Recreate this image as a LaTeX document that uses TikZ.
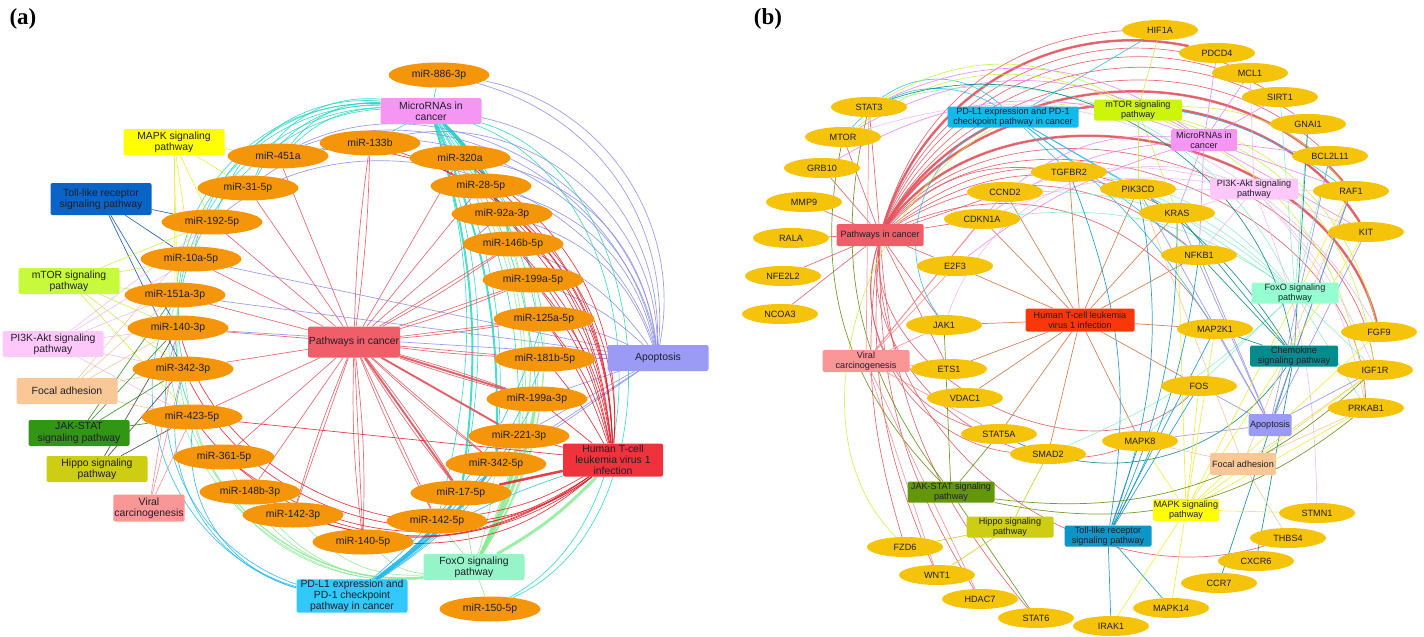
\documentclass[tikz,border=0pt]{standalone}
\usepackage{fontspec}
\setmainfont{Liberation Sans}
\newfontfamily\labfont{Liberation Serif}
\usetikzlibrary{shapes.geometric,backgrounds}
% node colours
\definecolor{miro}{RGB}{245,150,10}
\definecolor{geneo}{RGB}{245,195,10}
\definecolor{txt}{RGB}{30,30,40}
\definecolor{cPCa}{RGB}{240,95,105}
\definecolor{cHTa}{RGB}{240,50,60}
\definecolor{cApo}{RGB}{155,155,245}
\definecolor{cMir}{RGB}{245,150,245}
\definecolor{cFox}{RGB}{150,245,200}
\definecolor{cPD}{RGB}{50,200,250}
\definecolor{cMAPK}{RGB}{255,255,0}
\definecolor{cToll}{RGB}{10,100,200}
\definecolor{cmTOR}{RGB}{200,250,60}
\definecolor{cPI3K}{RGB}{255,200,250}
\definecolor{cFocal}{RGB}{250,200,150}
\definecolor{cJAK}{RGB}{50,150,20}
\definecolor{cHippo}{RGB}{205,205,20}
\definecolor{cViral}{RGB}{250,150,150}
\definecolor{cHTb}{RGB}{250,55,10}
\definecolor{cPDb}{RGB}{20,185,235}
\definecolor{cmTORb}{RGB}{205,245,10}
\definecolor{cChem}{RGB}{0,140,140}
\definecolor{cTollb}{RGB}{10,150,200}
\definecolor{cJAKb}{RGB}{100,150,10}
\definecolor{cFoxb}{RGB}{150,255,210}
% edge colours
\definecolor{kPC}{RGB}{225,85,95}
\definecolor{kHT}{RGB}{225,30,40}
\definecolor{kApo}{RGB}{140,140,230}
\definecolor{kMir}{RGB}{40,215,195}
\definecolor{kFox}{RGB}{140,235,150}
\definecolor{kPD}{RGB}{40,185,235}
\definecolor{kMAPK}{RGB}{235,235,50}
\definecolor{kToll}{RGB}{20,80,170}
\definecolor{kmTOR}{RGB}{200,240,70}
\definecolor{kPI3K}{RGB}{240,185,240}
\definecolor{kFocal}{RGB}{245,195,155}
\definecolor{kJAK}{RGB}{40,140,20}
\definecolor{kHippo}{RGB}{60,60,50}
\definecolor{kViral}{RGB}{240,140,140}
\definecolor{kHTb}{RGB}{205,110,60}
\definecolor{kMirb}{RGB}{235,130,235}
\definecolor{kFoxb}{RGB}{140,235,200}
\definecolor{kChem}{RGB}{0,130,130}
\definecolor{kTollb}{RGB}{10,145,195}
\definecolor{kJAKb}{RGB}{90,140,10}
\definecolor{kHippob}{RGB}{200,200,30}
\newcommand\edgefan[3]{\foreach \tg/\bd in {#3}{\draw[#1] (#2) to[bend right=\bd] (\tg);}}
\tikzset{
  mira/.style={ellipse, fill=miro, minimum width=101pt, minimum height=25pt, inner sep=0pt, text=txt, font=\fontsize{10.4}{11}\selectfont},
  geneb/.style={ellipse, fill=geneo, minimum width=76pt, minimum height=20pt, inner sep=0pt, text=txt, font=\fontsize{9.1}{10}\selectfont},
  pwa/.style={rectangle, rounded corners=2pt, minimum width=101pt, minimum height=26pt, inner sep=1pt, align=center, text=txt, font=\fontsize{10.4}{11.2}\selectfont},
  pwb/.style={rectangle, rounded corners=1.5pt, minimum width=87pt, minimum height=21pt, inner sep=0.5pt, align=center, text=txt, font=\fontsize{9.1}{9.8}\selectfont},
  panlab/.style={font=\labfont\bfseries\fontsize{23}{25}\selectfont, inner sep=0pt},
  ed/.style={line width=0.7pt, draw opacity=0.85},
  ePC/.style={ed, draw=kPC}, eHT/.style={ed, draw=kHT}, eApo/.style={ed, draw=kApo},
  eMir/.style={ed, draw=kMir}, eFox/.style={ed, draw=kFox}, ePD/.style={ed, draw=kPD},
  eMAPK/.style={ed, draw=kMAPK}, eToll/.style={ed, draw=kToll}, emTOR/.style={ed, draw=kmTOR},
  ePI3K/.style={ed, draw=kPI3K}, eFocal/.style={ed, draw=kFocal}, eJAK/.style={ed, draw=kJAK},
  eHippo/.style={ed, draw=kHippo}, eViral/.style={ed, draw=kViral},
  eHTb/.style={ed, draw=kHTb}, eMirb/.style={ed, draw=kMirb}, eFoxb/.style={ed, draw=kFoxb},
  eChem/.style={ed, draw=kChem}, eTollb/.style={ed, draw=kTollb}, eJAKb/.style={ed, draw=kJAKb},
  eHippob/.style={ed, draw=kHippob}
}
\begin{document}
\begin{tikzpicture}[x=1pt,y=-1pt]
\useasboundingbox (0,0) rectangle (1424,637);
\node[panlab] (la) at (23,19) {(a)};
\node[panlab] (lb) at (768,19) {(b)};
% ================= panel (a) nodes
\node[mira] (m886) at (439,75) {miR-886-3p};
\node[pwa, fill=cMir] (mirc) at (431,111) {MicroRNAs in\\cancer};
\node[mira] (m133b) at (370,143) {miR-133b};
\node[mira] (m451a) at (278,156) {miR-451a};
\node[mira] (m320a) at (460,158) {miR-320a};
\node[mira] (m28) at (481,186) {miR-28-5p};
\node[mira] (m92a) at (502,214) {miR-92a-3p};
\node[mira] (m146b) at (513,244) {miR-146b-5p};
\node[mira] (m199a5) at (533,280) {miR-199a-5p};
\node[mira] (m125a) at (544,319) {miR-125a-5p};
\node[mira] (m181b) at (545,359) {miR-181b-5p};
\node[mira] (m199a3) at (537,399) {miR-199a-3p};
\node[mira] (m221) at (519,436) {miR-221-3p};
\node[mira] (m342s5) at (496,464) {miR-342-5p};
\node[mira] (m17) at (461,493) {miR-17-5p};
\node[mira] (m142s5) at (437,521) {miR-142-5p};
\node[mira] (m140s5) at (363,542) {miR-140-5p};
\node[mira] (m150) at (490,609) {miR-150-5p};
\node[pwa, fill=cFox] (foxa) at (474,567) {FoxO signaling\\pathway};
\node[pwa, fill=cPD, minimum width=111pt, minimum height=33pt, font=\fontsize{10.4}{10.8}\selectfont] (pda) at (352,596) {PD-L1 expression and\\PD-1 checkpoint\\pathway in cancer};
\node[pwa, fill=cHTa, minimum width=100pt, minimum height=33pt, font=\fontsize{10.4}{10.8}\selectfont] (hta) at (613,460) {Human T-cell\\leukemia virus 1\\infection};
\node[pwa, fill=cApo] (apoa) at (658,358) {Apoptosis};
\node[pwa, fill=cPCa, minimum width=92pt, minimum height=31pt, inner sep=0pt] (pca) at (354,342) {Pathways in cancer};
\node[mira] (m31) at (248,188) {miR-31-5p};
\node[mira] (m192) at (212,222) {miR-192-5p};
\node[mira] (m10a) at (191,259) {miR-10a-5p};
\node[mira] (m151a) at (175,295) {miR-151a-3p};
\node[mira] (m140s3) at (178,328) {miR-140-3p};
\node[mira] (m342s3) at (183,369) {miR-342-3p};
\node[mira] (m423) at (192,417) {miR-423-5p};
\node[mira] (m361) at (224,457) {miR-361-5p};
\node[mira] (m148b) at (250,492) {miR-148b-3p};
\node[mira] (m142s3) at (293,515) {miR-142-3p};
\node[pwa, fill=cMAPK] (mapka) at (174,142) {MAPK signaling\\pathway};
\node[pwa, fill=cToll, minimum height=32pt] (tolla) at (101,199) {Toll-like receptor\\signaling pathway};
\node[pwa, fill=cmTOR] (mtora) at (69,281) {mTOR signaling\\pathway};
\node[pwa, fill=cPI3K] (pi3ka) at (53,344) {PI3K-Akt signaling\\pathway};
\node[pwa, fill=cFocal] (focala) at (67,391) {Focal adhesion};
\node[pwa, fill=cJAK] (jaka) at (79,433) {JAK-STAT\\signaling pathway};
\node[pwa, fill=cHippo] (hippoa) at (97,469) {Hippo signaling\\pathway};
\node[pwa, fill=cViral, minimum width=70pt, minimum height=27pt] (virala) at (149,508) {Viral\\carcinogenesis};
% ================= panel (b) nodes
\node[geneb] (hif1a) at (1160,30) {HIF1A};
\node[geneb] (pdcd4) at (1217,53) {PDCD4};
\node[geneb] (mcl1) at (1250,73) {MCL1};
\node[geneb] (sirt1) at (1280,97) {SIRT1};
\node[geneb] (gnai1) at (1308,124) {GNAI1};
\node[geneb] (bcl2l11) at (1330,156) {BCL2L11};
\node[geneb] (raf1) at (1351,191) {RAF1};
\node[geneb] (kit) at (1366,232) {KIT};
\node[geneb] (fgf9) at (1379,332) {FGF9};
\node[geneb] (igf1r) at (1375,370) {IGF1R};
\node[geneb] (prkab1) at (1366,408) {PRKAB1};
\node[geneb] (stmn1) at (1317,513) {STMN1};
\node[geneb] (thbs4) at (1288,538) {THBS4};
\node[geneb] (cxcr6) at (1256,561) {CXCR6};
\node[geneb] (ccr7) at (1219,583) {CCR7};
\node[geneb] (mapk14) at (1171,608) {MAPK14};
\node[geneb] (irak1) at (1111,626) {IRAK1};
\node[geneb] (stat6) at (1036,618) {STAT6};
\node[geneb] (hdac7) at (980,599) {HDAC7};
\node[geneb] (wnt1) at (937,575) {WNT1};
\node[geneb] (fzd6) at (905,547) {FZD6};
\node[geneb] (smad2) at (1048,454) {SMAD2};
\node[geneb] (stat5a) at (999,434) {STAT5A};
\node[geneb] (vdac1) at (965,398) {VDAC1};
\node[geneb] (ets1) at (949,369) {ETS1};
\node[geneb] (jak1) at (944,325) {JAK1};
\node[geneb] (ncoa3) at (780,314) {NCOA3};
\node[geneb] (map2k1) at (1215,329) {MAP2K1};
\node[geneb] (fos) at (1199,386) {FOS};
\node[geneb] (mapk8) at (1140,441) {MAPK8};
\node[geneb] (nfkb1) at (1199,255) {NFKB1};
\node[geneb] (kras) at (1177,213) {KRAS};
\node[geneb] (pik3cd) at (1138,189) {PIK3CD};
\node[geneb] (tgfbr2) at (1069,172) {TGFBR2};
\node[geneb] (stat3) at (869,107) {STAT3};
\node[geneb] (mtor) at (843,137) {MTOR};
\node[geneb] (grb10) at (822,168) {GRB10};
\node[geneb] (mmp9) at (804,202) {MMP9};
\node[geneb] (rala) at (791,238) {RALA};
\node[geneb] (nfe2l2) at (783,276) {NFE2L2};
\node[geneb] (ccnd2) at (1005,192) {CCND2};
\node[geneb] (cdkn1a) at (982,219) {CDKN1A};
\node[geneb] (e2f3) at (955,266) {E2F3};
\node[pwb, fill=cHippo] (hippob) at (1010,527) {Hippo signaling\\pathway};
\node[pwb, fill=cJAKb] (jakb) at (951,492) {JAK-STAT signaling\\pathway};
\node[pwb, fill=cViral, minimum height=22pt] (viralb) at (866,361) {Viral\\carcinogenesis};
\node[pwb, fill=cHTb, minimum width=109pt, minimum height=23pt] (htb) at (1080,320) {Human T-cell leukemia\\virus 1 infection};
\node[pwb, fill=cChem, minimum width=88pt] (chemb) at (1294,356) {Chemokine\\signaling pathway};
\node[pwb, fill=cApo, minimum width=43pt, minimum height=22pt, inner xsep=0pt] (apob) at (1270,425) {Apoptosis};
\node[pwb, fill=cFocal, minimum width=66pt, minimum height=22pt] (focalb) at (1243,464) {Focal adhesion};
\node[pwb, fill=cMAPK, minimum width=66pt, minimum height=22pt] (mapkb) at (1186,510) {MAPK signaling\\pathway};
\node[pwb, fill=cTollb] (tollb) at (1108,536) {Toll-like receptor\\signaling pathway};
\node[pwb, fill=cFoxb] (foxb) at (1295,293) {FoxO signaling\\pathway};
\node[pwb, fill=cPI3K, minimum width=88pt] (pi3kb) at (1254,189) {PI3K-Akt signaling\\pathway};
\node[pwb, fill=cMir, minimum width=66pt, minimum height=22pt] (mircb) at (1204,140) {MicroRNAs in\\cancer};
\node[pwb, fill=cmTORb, minimum width=88pt] (mtorb) at (1138,110) {mTOR signaling\\pathway};
\node[pwb, fill=cPDb, minimum width=131pt] (pdb) at (1013,117) {PD-L1 expression and PD-1\\checkpoint pathway in cancer};
\node[pwb, fill=cPCa, minimum height=22pt] (pcb) at (880,235) {Pathways in cancer};
% ================= edges
\begin{scope}[on background layer]
% ---- panel (a)
\edgefan{eMir}{mirc}{m886/0,m133b/0,m451a/20,m451a/26,m31/30,m31/36,m192/38,m10a/40,m151a/44,m140s3/47,m342s3/50,m423/54,m320a/0,m28/-10,m92a/-12,m146b/-14,m199a5/-15,m125a/-15,m181b/-15,m199a3/-15,m221/-15,m342s5/-15,m17/-15,m142s5/-15,m150/-70,m150/-66}
\foreach \tg in {m28,m92a,m146b,m17,m342s5}{\draw[eMir, line width=2pt] (mirc) to[bend left=12] (\tg);}
\edgefan{eApo}{apoa}{m886/45,m886/40,mirc/40,m451a/55,m451a/50,m133b/50,m31/58,m320a/35,m28/30,m92a/25,m146b/15,m199a5/10,m125a/5,m181b/0,m199a3/0,m221/0,m10a/0,m151a/0,m140s3/0,m192/55,m342s5/0,m17/0}
\edgefan{eFox}{foxa}{m150/0,m142s5/0,m17/0,m342s5/5,m221/10,m199a3/12,m181b/14,m125a/16,m199a5/18,m146b/20,m92a/22,m28/24,m320a/26,m140s5/-20,m142s3/-25,m148b/-30,m361/-35,m423/-40,m342s3/-45,m140s3/-50,m151a/-55}
\foreach \tg in {m221,m199a3,hta}{\draw[eFox, line width=3pt] (foxa) to[bend right=8] (\tg);}
\edgefan{ePD}{pda}{m342s3/-45,m140s3/-45,m423/-40,m151a/-50,m17/10,m342s5/10,m221/12,m181b/14,m199a3/12,m125a/15,hta/-10}
\foreach \tg in {m17,m342s5}{\draw[ePD, line width=2.5pt] (pda) to[bend right=8] (\tg);}
\edgefan{ePC}{pca}{m451a/0,m133b/3,m133b/-3,m320a/0,m28/0,m92a/0,m146b/0,m146b/3,m199a5/0,m199a5/3,m125a/0,m125a/2,m181b/0,m181b/2,m199a3/0,m199a3/2,m199a3/-2,m221/0,m342s5/0,m342s5/2,m17/0,m17/3,m17/-3,m142s5/0,m142s5/3,m140s5/0,m140s5/4,m140s5/-4,m142s3/0,m142s3/3,m148b/0,m361/0,m423/0,m342s3/0,m140s3/0,m151a/0,m10a/0,m192/0,m31/0}
\foreach \tg in {m199a3,m17,m221}{\draw[ePC, line width=2pt] (pca) -- (\tg);}
\edgefan{eHT}{hta}{m320a/25,m320a/30,m28/20,m28/24,m92a/18,m92a/22,m146b/14,m146b/18,m199a5/12,m199a5/16,m125a/8,m125a/12,m181b/5,m199a3/0,m221/0,m423/0,m133b/35,m451a/50,m142s5/-10,m140s5/-20,m142s3/-25,m148b/-30,m361/-35,m423/-45,m342s3/-50,m140s3/-55}
\draw[eHT, line width=2.5pt] (hta) -- (m17);
\edgefan{eMAPK}{mapka}{m451a/0,m31/0,m192/0,m10a/0,m140s3/0,m151a/0}
\edgefan{eToll}{tolla}{m192/0,m10a/0,m140s3/0,m342s3/0}
\edgefan{emTOR}{mtora}{m151a/0,m140s3/0,m192/0,m10a/0,m342s3/0,m423/0}
\edgefan{ePI3K}{pi3ka}{m140s3/0,m342s3/0,m192/0,m151a/0,m423/0,m10a/0}
\edgefan{eFocal}{focala}{m342s3/0,m423/0,m151a/0,m140s3/0,m192/0}
\edgefan{eJAK}{jaka}{m423/0,m342s3/0,m140s3/0,m151a/0}
\edgefan{eHippo}{hippoa}{m423/0,m342s3/0,m140s3/0}
\edgefan{eViral}{virala}{m423/0,m342s3/0,m140s3/0}
% ---- panel (b)
\edgefan{ePC}{pcb}{stat3/0,mtor/0,grb10/0,mmp9/0,rala/0,nfe2l2/0,ncoa3/0,ccnd2/0,cdkn1a/0,e2f3/0,jak1/0,ets1/0,hif1a/-35,pdcd4/-42,mcl1/-45,sirt1/-48,gnai1/-50,bcl2l11/-52,raf1/-55,kit/-58,fgf9/-65,igf1r/-66,prkab1/-68,fzd6/12,wnt1/14,hdac7/16,stat6/18,smad2/50,stat5a/45,mapk8/60,fos/70,map2k1/-40,nfkb1/-35,kras/-30,pik3cd/-28,tgfbr2/-25,thbs4/55}
\foreach \tg/\bd in {pdcd4/-42,raf1/-55,kit/-58,fgf9/-65}{\draw[ePC, line width=2.5pt] (pcb) to[bend right=\bd] (\tg);}
\edgefan{eHTb}{htb}{tgfbr2/0,ccnd2/0,cdkn1a/0,e2f3/0,jak1/0,ets1/0,vdac1/0,stat5a/0,smad2/0,mapk8/0,fos/0,map2k1/0,nfkb1/0,kras/0,pik3cd/0}
\edgefan{ePD}{pdb}{hif1a/0,stat3/40,mtor/40,tgfbr2/0,jak1/50,nfkb1/0,kras/0,map2k1/-10,pik3cd/0,raf1/-20}
\edgefan{emTOR}{mtorb}{mtor/30,stat3/30,pik3cd/0,kras/0,raf1/-25,prkab1/-30,igf1r/-32,fgf9/-30,hif1a/0,fzd6/70}
\edgefan{eMirb}{mircb}{pdcd4/0,mcl1/0,sirt1/0,kras/0,nfkb1/0,stat3/30,mtor/30,ccnd2/20,cdkn1a/15,e2f3/10,bcl2l11/0,raf1/0,kit/0,grb10/25}
\edgefan{ePI3K}{pi3kb}{pik3cd/0,kras/0,nfkb1/0,mcl1/0,raf1/0,kit/0,fgf9/-10,igf1r/-10,prkab1/-15,mtor/25,ccnd2/15,cdkn1a/15,stmn1/-10,jak1/45}
\edgefan{eFoxb}{foxb}{sirt1/0,bcl2l11/0,kras/0,igf1r/0,mapk8/0,stat3/40,ccnd2/20,cdkn1a/20,prkab1/0,smad2/-10,tgfbr2/20,pik3cd/10,gnai1/0}
\edgefan{eChem}{chemb}{map2k1/0,nfkb1/0,kras/0,raf1/0,gnai1/0,cxcr6/0,ccr7/0,stat3/50,pik3cd/10,stat5a/-40}
\edgefan{eApo}{apob}{fos/0,mapk8/0,map2k1/0,raf1/0,bcl2l11/0,nfkb1/0,kras/0,pik3cd/0,igf1r/0,kit/0}
\edgefan{eFocal}{focalb}{mapk8/0,raf1/0,igf1r/0,pik3cd/0,thbs4/0,prkab1/0}
\edgefan{eMAPK}{mapkb}{mapk8/0,mapk14/0,irak1/0,stmn1/0,fos/0,map2k1/0,raf1/0,kras/0,fgf9/0,igf1r/0,kit/0,prkab1/0}
\edgefan{eTollb}{tollb}{irak1/0,mapk14/0,mapk8/0,map2k1/0,fos/0,nfkb1/10,pik3cd/15,kras/12,tgfbr2/15}
\edgefan{eJAKb}{jakb}{stat5a/0,jak1/0,stat3/-25,mtor/-28,stat6/0,igf1r/25,prkab1/25}
\edgefan{eHippob}{hippob}{fzd6/0,wnt1/0,smad2/0}
\edgefan{eViral}{viralb}{jak1/0,ets1/0,ccnd2/0,cdkn1a/0,e2f3/0,stat5a/0,hdac7/0,stat3/0,wnt1/0}
\end{scope}
\end{tikzpicture}
\end{document}
